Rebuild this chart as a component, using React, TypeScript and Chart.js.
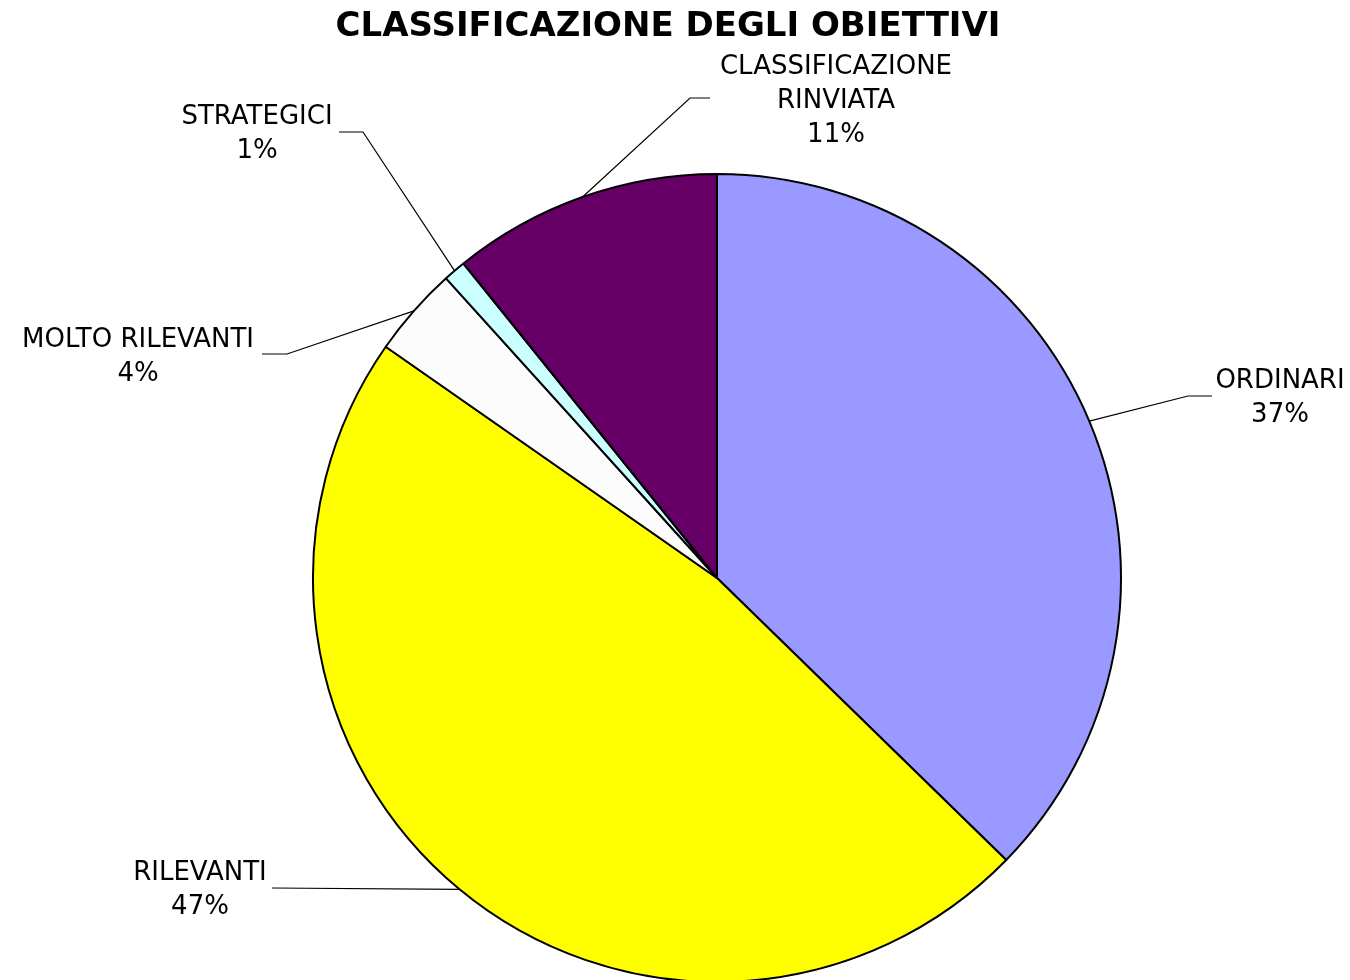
import React, { useEffect, useRef } from "react";
import { Chart, registerables } from "chart.js";

Chart.register(...registerables);

const TITLE = "CLASSIFICAZIONE DEGLI OBIETTIVI";
const categories = ["ORDINARI", "RILEVANTI", "MOLTO RILEVANTI", "STRATEGICI", "CLASSIFICAZIONE RINVIATA"];
const labelLines = [["ORDINARI"], ["RILEVANTI"], ["MOLTO RILEVANTI"], ["STRATEGICI"], ["CLASSIFICAZIONE", "RINVIATA"]];
const values = [37.3, 47.4, 3.6, 0.9, 10.8];
const colors = ["#9999FF", "#FFFF00", "#FCFCFC", "#CCFFFF", "#660066"];

// label layout: text center x, first line center y, leader bend point, leader end point
const labelLayout = [
  { tx: 1280, ty: 381, bend: [1188, 396], end: [1212, 396] },
  { tx: 200, ty: 873, bend: [272, 888], end: [272, 888] },
  { tx: 138, ty: 340, bend: [287, 354], end: [262, 354] },
  { tx: 257, ty: 117, bend: [363, 132], end: [339, 132] },
  { tx: 836, ty: 67, bend: [690, 98], end: [710, 98] },
];

const FONT = '"DejaVu Sans", Verdana, sans-serif';

const labelsPlugin = {
  id: "pieLabels",
  afterDraw(chart: any) {
    const ctx = chart.ctx;
    const meta = chart.getDatasetMeta(0);
    const total = values.reduce((a, b) => a + b, 0);
    ctx.save();
    // title
    ctx.fillStyle = "#000";
    ctx.font = `bold 34px ${FONT}`;
    ctx.textAlign = "center";
    ctx.textBaseline = "middle";
    ctx.fillText(TITLE, 668, 27);

    ctx.font = `26px ${FONT}`;
    meta.data.forEach((arc: any, i: number) => {
      const L = labelLayout[i];
      const mid = (arc.startAngle + arc.endAngle) / 2;
      const ax = arc.x + Math.cos(mid) * arc.outerRadius;
      const ay = arc.y + Math.sin(mid) * arc.outerRadius;
      ctx.strokeStyle = "#000";
      ctx.lineWidth = 1.2;
      ctx.beginPath();
      ctx.moveTo(ax, ay);
      ctx.lineTo(L.bend[0], L.bend[1]);
      ctx.lineTo(L.end[0], L.end[1]);
      ctx.stroke();
      const pct = Math.round((values[i] / total) * 100) + "%";
      const lines = [...labelLines[i], pct];
      ctx.fillStyle = "#000";
      lines.forEach((t, k) => {
        ctx.fillText(t, L.tx, L.ty + k * 34);
      });
    });
    ctx.restore();
  },
};

export default function App() {
  const ref = useRef<HTMLCanvasElement>(null);
  useEffect(() => {
    const chart = new Chart(ref.current!, {
      type: "pie",
      data: {
        labels: categories,
        datasets: [
          {
            data: values,
            backgroundColor: colors,
            borderColor: "#000",
            borderWidth: 2,
            radius: 404,
            clip: false as any,
          },
        ],
      },
      options: {
        animation: false,
        responsive: false,
        layout: { padding: { left: 84, right: 0, top: 176, bottom: 0 } },
        plugins: {
          legend: { display: false },
          title: { display: false },
          tooltip: { enabled: false },
        },
      },
      plugins: [labelsPlugin],
    });
    return () => chart.destroy();
  }, []);
  return (
    <div style={{ position: "fixed", left: 0, top: 0, width: 1350, height: 980, overflow: "hidden", background: "#fff" }}>
      <canvas ref={ref} width={1350} height={980} style={{ display: "block" }} />
    </div>
  );
}
